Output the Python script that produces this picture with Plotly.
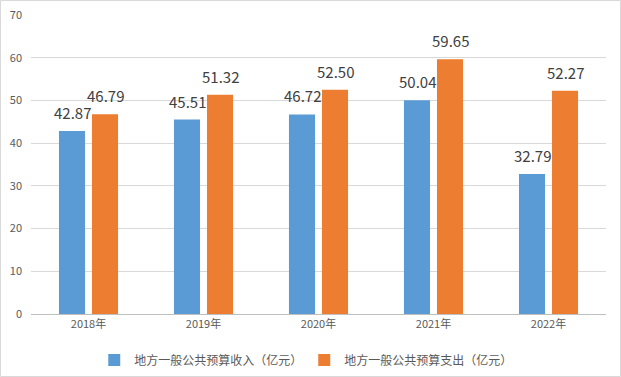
import plotly.graph_objects as go

categories = ["2018年", "2019年", "2020年", "2021年", "2022年"]
income = [42.87, 45.51, 46.72, 50.04, 32.79]
expense = [46.79, 51.32, 52.50, 59.65, 52.27]
series_names = ["地方一般公共预算收入（亿元）", "地方一般公共预算支出（亿元）"]
y_ticks = [0, 10, 20, 30, 40, 50, 60, 70]

FONT = "Noto Sans CJK SC, Microsoft YaHei, sans-serif"
BLUE = "#5B9BD5"
ORANGE = "#ED7D31"

fig = go.Figure()
series = [(series_names[0], income, BLUE, -16.5), (series_names[1], expense, ORANGE, 16.5)]
for name, vals, color, dx in series:
    fig.add_trace(go.Bar(
        x=categories, y=vals, name=name, marker=dict(color=color, line=dict(width=0)),
        cliponaxis=False,
    ))
    for c, v in zip(categories, vals):
        fig.add_annotation(x=c, y=v, text=f"{v:.2f}", showarrow=False,
                           xshift=dx, yshift=6, yanchor="bottom",
                           font=dict(size=15, color="#404040", family=FONT))

fig.update_layout(
    width=621, height=377,
    margin=dict(l=31, r=15, t=15, b=63, autoexpand=False),
    paper_bgcolor="white", plot_bgcolor="white",
    barmode="group", bargap=0.426, bargroupgap=0.21,
    font=dict(family=FONT, color="#595959", size=11),
    showlegend=True,
    legend=dict(orientation="h", x=0.11, xanchor="left", y=-0.105, yanchor="top",
                font=dict(size=12, color="#595959"), itemwidth=30,
                entrywidth=165, entrywidthmode="pixels",
                traceorder="normal"),
)
fig.update_xaxes(showgrid=False, showline=True, linecolor="#bfbfbf", linewidth=1,
                 ticks="", tickfont=dict(size=11, color="#595959"))
fig.update_yaxes(range=[0, 70], tickvals=y_ticks, showgrid=True, gridcolor="#d9d9d9",
                 gridwidth=1, zeroline=False, showline=False, ticks="",
                 tickfont=dict(size=11, color="#595959"), ticklabelstandoff=8)
fig.add_shape(type="rect", xref="paper", yref="paper", x0=-30.5/575, x1=1+14.5/575,
              y0=-62.5/299, y1=1+14.5/299, line=dict(color="#d9d9d9", width=1))
fig.write_html("out.html", config={"displayModeBar": False},
               post_script="document.body.style.margin='0';document.body.style.padding='0';")
